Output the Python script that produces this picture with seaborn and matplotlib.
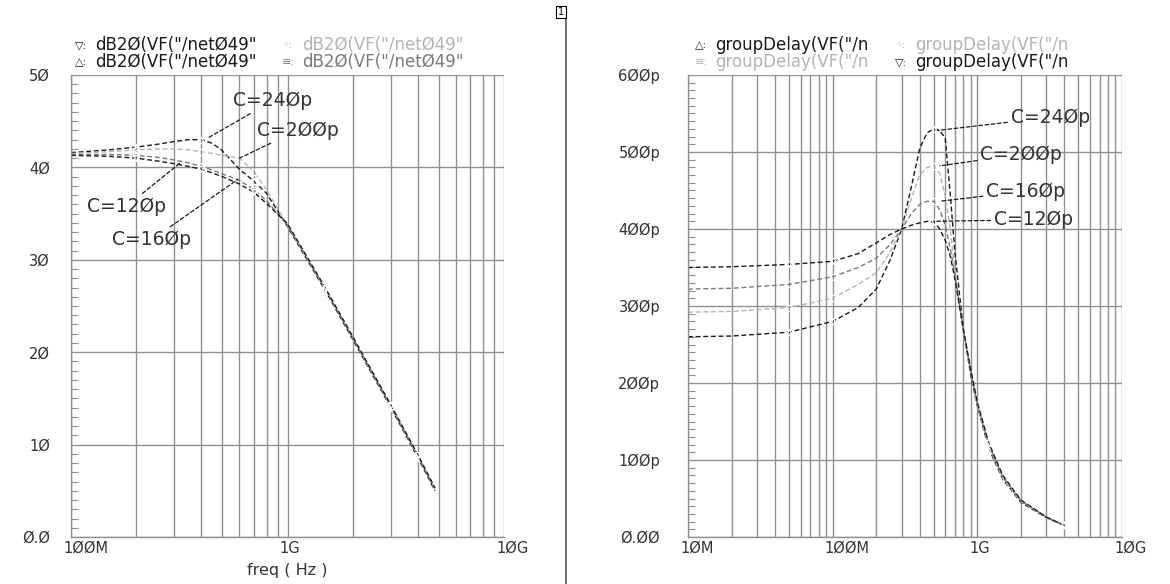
import matplotlib
matplotlib.use("Agg")
import matplotlib.pyplot as plt
import matplotlib.transforms as mtransforms
from matplotlib.lines import Line2D
from matplotlib.ticker import MultipleLocator, LogLocator, NullFormatter
import seaborn as sns

# ---- data ------------------------------------------------------------------
CAPS = ["C=24Øp", "C=2ØØp", "C=16Øp", "C=12Øp"]
COLORS = ["#1a1a1a", "#b4b4b4", "#7a7a7a", "#1a1a1a"]
MARKERS = ["^", "o", "s", "v"]

# left panel: dB20 of output vs frequency (Hz)
freq_db = [1e8, 1.5e8, 2e8, 2.5e8, 3e8, 3.5e8, 4e8, 4.5e8, 5e8, 6e8, 7e8, 8e8,
           1e9, 1.5e9, 2e9, 3e9, 4e9, 4.8e9]
db_240 = [41.6, 41.9, 42.2, 42.5, 42.8, 43.0, 43.0, 42.6, 41.8, 39.8, 38.5, 37.2,
          33.6, 26.6, 21.4, 14.0, 8.6, 5.0]
db_200 = [41.5, 41.7, 41.9, 42.0, 42.0, 41.9, 41.7, 41.5, 41.3, 41.0, 39.5, 37.6,
          33.7, 26.7, 21.5, 14.1, 8.7, 5.1]
db_160 = [41.4, 41.4, 41.3, 41.1, 40.8, 40.5, 40.1, 39.7, 39.3, 38.6, 37.6, 36.4,
          33.8, 26.8, 21.6, 14.2, 8.8, 5.2]
db_120 = [41.3, 41.2, 41.0, 40.7, 40.4, 40.1, 39.8, 39.4, 39.0, 38.2, 37.3, 36.1,
          33.9, 26.9, 21.7, 14.3, 8.9, 5.3]

# right panel: group delay (ps) vs frequency (Hz)
freq_gd = [1e7, 2e7, 5e7, 1e8, 1.5e8, 2e8, 2.5e8, 3e8, 3.5e8, 4e8, 4.5e8, 5e8,
           5.5e8, 6e8, 6.5e8, 7e8, 8e8, 9e8, 1e9, 1.2e9, 1.5e9, 2e9, 3e9, 4e9]
gd_240 = [260, 261, 266, 280, 298, 322, 360, 400, 455, 505, 525, 530,
          528, 518, 445, 370, 270, 210, 170, 115, 75, 45, 25, 15]
gd_200 = [292, 293, 298, 310, 328, 343, 370, 400, 440, 470, 480, 482,
          472, 442, 400, 345, 265, 215, 170, 118, 76, 46, 25, 15]
gd_160 = [322, 323, 328, 338, 350, 362, 380, 400, 420, 432, 436, 436,
          425, 405, 375, 340, 270, 215, 172, 120, 78, 47, 26, 15]
gd_120 = [350, 351, 354, 358, 368, 382, 393, 400, 405, 408, 410, 409,
          400, 385, 365, 335, 270, 218, 175, 122, 80, 48, 26, 15]

db_ticks = [0, 10, 20, 30, 40, 50]
db_labels = ["Ø.Ø", "1Ø", "2Ø", "3Ø", "4Ø", "5Ø"]
gd_ticks = [0, 100, 200, 300, 400, 500, 600]
gd_labels = ["Ø.ØØ", "1ØØp", "2ØØp", "3ØØp", "4ØØp", "5ØØp", "6ØØp"]
left_xticks = [1e8, 1e9, 1e10]
left_xlabels = ["1ØØM", "1G", "1ØG"]
right_xticks = [1e7, 1e8, 1e9, 1e10]
right_xlabels = ["1ØM", "1ØØM", "1G", "1ØG"]

# ---- style -----------------------------------------------------------------
sns.set_theme(style="white")
plt.rcParams["font.family"] = ["DejaVu Sans"]
TXT = "#333333"
GRID = "#8f8f8f"
FS = 10.5

W, H = 1170, 584
fig = plt.figure(figsize=(W / 100, H / 100), dpi=100)
axL = fig.add_axes([71 / W, 47 / H, 433 / W, 462 / H])
axR = fig.add_axes([688 / W, 47 / H, 434 / W, 462 / H])


def style_axis(ax, xlim, ylim, yticks, ylabels, xticks, xlabels, ypad, yminor):
    ax.set_xscale("log")
    ax.set_xlim(*xlim)
    ax.set_ylim(*ylim)
    ax.xaxis.set_minor_locator(LogLocator(base=10, subs=range(2, 10)))
    ax.xaxis.set_minor_formatter(NullFormatter())
    ax.set_xticks(xticks, labels=xlabels)
    ax.set_yticks(yticks, labels=ylabels)
    ax.yaxis.set_minor_locator(MultipleLocator(yminor))
    ax.grid(True, which="both", axis="x", color=GRID, lw=1)
    ax.grid(True, which="major", axis="y", color=GRID, lw=1)
    for side in ("top", "right"):
        ax.spines[side].set_visible(False)
    for side in ("left", "bottom"):
        ax.spines[side].set_color(GRID)
        ax.spines[side].set_linewidth(1)
    ax.tick_params(axis="x", which="both", length=0, pad=3, labelsize=FS, labelcolor=TXT)
    ax.tick_params(axis="y", which="both", direction="in", left=True, color=GRID,
                   labelsize=FS, labelcolor=TXT, pad=ypad)
    ax.tick_params(axis="y", which="minor", length=5, width=0.8)
    ax.tick_params(axis="y", which="major", length=0)
    shift = mtransforms.ScaledTranslation(-8 / 100, 0, fig.dpi_scale_trans)
    for lab in ax.get_xticklabels():
        lab.set_horizontalalignment("left")
        lab.set_transform(lab.get_transform() + shift)
    ax.set_xlabel("")
    ax.set_ylabel("")


def draw(ax, x, series, mark_idx):
    for y, col, m in zip(series, COLORS, MARKERS):
        sns.lineplot(x=x, y=y, ax=ax, color=col, lw=1, estimator=None, sort=False,
                     linestyle=(0, (3.5, 2)), marker=m, markevery=mark_idx,
                     markersize=4.5, fillstyle="none", markeredgewidth=0.9)


draw(axL, freq_db, [db_240, db_200, db_160, db_120], [2, 6, 10, 13, 15, 16])
draw(axR, freq_gd, [gd_240, gd_200, gd_160, gd_120], [2, 3, 11, 19, 23])

style_axis(axL, (1e8, 1e10), (0, 50), db_ticks, db_labels, left_xticks, left_xlabels, 15, 1)
style_axis(axR, (1e7, 1e10), (0, 600), gd_ticks, gd_labels, right_xticks, right_xlabels, 20, 10)
axL.set_xlabel("freq ( Hz )", fontsize=11.5, color=TXT, labelpad=5)

# capacitor labels with dashed leader lines
CFS = 13.5
lead = dict(arrowstyle="-", color="#1a1a1a", lw=0.9, linestyle=(0, (3, 2)), shrinkA=0, shrinkB=0)
for txt, xy, xyt, ha in [("C=24Øp", (4.3e8, 43.2), (5.6e8, 47.2), "left"),
                         ("C=2ØØp", (6.0e8, 41.0), (7.2e8, 44.0), "left"),
                         ("C=12Øp", (3.2e8, 40.5), (2.75e8, 35.8), "right"),
                         ("C=16Øp", (5.9e8, 38.7), (3.6e8, 32.2), "right")]:
    axL.annotate(txt, xy=xy, xytext=xyt, fontsize=CFS, color=TXT, arrowprops=lead,
                 ha=ha, va="center")
for txt, xy, xyt in [("C=24Øp", (5.3e8, 528), (1.7e9, 545)),
                     ("C=2ØØp", (5.5e8, 482), (1.05e9, 497)),
                     ("C=16Øp", (5.5e8, 436), (1.15e9, 449)),
                     ("C=12Øp", (5.0e8, 410), (1.3e9, 412))]:
    axR.annotate(txt, xy=xy, xytext=xyt, fontsize=CFS, color=TXT, arrowprops=lead,
                 ha="left", va="center")

# legend header lines (Cadence-style text rows)
LFS = 12
rows_left = [(75, 45, "▽:", "dB2Ø(VF(\"/netØ49\"", "#1a1a1a"),
             (282, 45, "◦:", "dB2Ø(VF(\"/netØ49\"", "#b4b4b4"),
             (75, 62, "△:", "dB2Ø(VF(\"/netØ49\"", "#1a1a1a"),
             (282, 62, "≡:", "dB2Ø(VF(\"/netØ49\"", "#7a7a7a")]
rows_right = [(695, 45, "△:", "groupDelay(VF(\"/n", "#1a1a1a"),
              (895, 45, "◦:", "groupDelay(VF(\"/n", "#b4b4b4"),
              (695, 62, "≡:", "groupDelay(VF(\"/n", "#b4b4b4"),
              (895, 62, "▽:", "groupDelay(VF(\"/n", "#1a1a1a")]
for x, y, sym, label, col in rows_left + rows_right:
    fig.text(x / W, 1 - y / H, sym, fontsize=8, color=col, va="center")
    fig.text((x + 20) / W, 1 - y / H, label, fontsize=LFS, color=col, va="center")

# separator between the two plot windows and window number box
fig.add_artist(Line2D([566 / W, 566 / W], [0, 1 - 12 / H], color="#666666", lw=1.3))
fig.text(561 / W, 1 - 12 / H, "1", fontsize=7, color="black", ha="center", va="center",
         bbox=dict(boxstyle="square,pad=0.15", fc="white", ec="black", lw=0.8))

fig.savefig("out.png", dpi=100)
plt.close(fig)
